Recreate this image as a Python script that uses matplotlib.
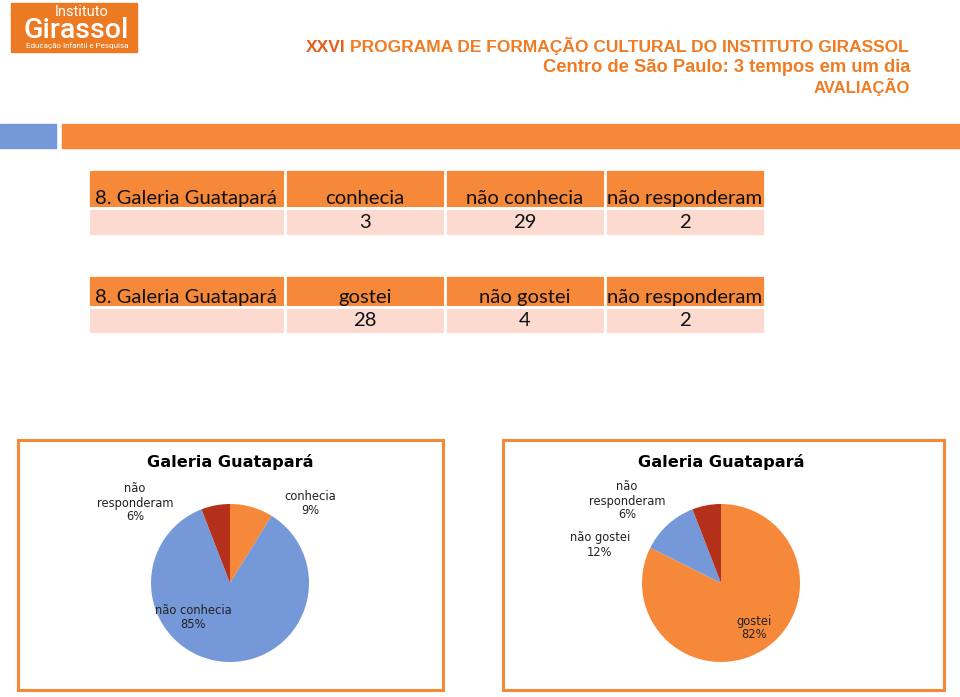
import matplotlib
matplotlib.use('Agg')
import matplotlib.pyplot as plt
import matplotlib.transforms as mtransforms
from matplotlib.patches import Rectangle

# data
table1_cols = ['8. Galeria Guatapará', 'conhecia', 'não conhecia', 'não responderam']
table1_counts = [3, 29, 2]
table2_cols = ['8. Galeria Guatapará', 'gostei', 'não gostei', 'não responderam']
table2_counts = [28, 4, 2]

pie1_labels = ['conhecia', 'não conhecia', 'não\nresponderam']
pie2_labels = ['gostei', 'não gostei', 'não\nresponderam']
pie_title = 'Galeria Guatapará'

header_lines = ['PROGRAMA DE FORMAÇÃO CULTURAL DO INSTITUTO GIRASSOL',
                'Centro de São Paulo: 3 tempos em um dia',
                'AVALIAÇÃO']

ORANGE = '#F6883A'
BLUE = '#7598D8'
DARKRED = '#B5301A'
PINK = '#FCDAD0'
TXT_OR = '#EF7B22'

W, H = 960, 697
fig = plt.figure(figsize=(W / 100, H / 100), dpi=100)
fig.patch.set_facecolor('white')

bg = fig.add_axes([0, 0, 1, 1])
bg.set_xlim(0, W)
bg.set_ylim(H, 0)
bg.axis('off')


def px_axes(x0, y0, w, h):
    return fig.add_axes([x0 / W, 1 - (y0 + h) / H, w / W, h / H])


# logo
bg.add_patch(Rectangle((11, 3), 126, 49, color='#EC7A22'))
bg.text(82, 16, 'Instituto', color='white', fontsize=10.5, family='Roboto',
        ha='center', va='baseline')
bg.text(76, 38.5, 'Girassol', color='white', fontsize=20.5, family='Roboto',
        fontweight='medium', ha='center', va='baseline')
bg.text(77, 46, 'Educação Infantil e Pesquisa', color='white', fontsize=5.8,
        family='Roboto', ha='center', va='center')

# header
t1 = bg.text(909, 52, header_lines[0], ha='right', va='baseline', color=TXT_OR,
             fontsize=12.5, family='Liberation Sans', fontweight='bold')
bg.annotate('XXVI', xy=(0, 0), xycoords=t1, xytext=(-3.5, 0), textcoords='offset points',
            ha='right', va='bottom', color='#E4601A', fontsize=12.5,
            family='Liberation Sans', fontweight='bold')
bg.text(910, 72.5, header_lines[1], ha='right', va='baseline', color=TXT_OR,
        fontsize=13.2, family='Liberation Sans', fontweight='bold')
bg.text(910, 93.5, header_lines[2], ha='right', va='baseline', color=TXT_OR,
        fontsize=12, family='Liberation Sans', fontweight='bold')

# bars under header
bg.add_patch(Rectangle((0, 124), 56, 24, color=BLUE))
bg.add_patch(Rectangle((62, 124), 898, 24, color=ORANGE))


def draw_table(y0, head_h, row_h, cols, counts):
    ax = px_axes(88, y0, 677, head_h + row_h)
    ax.axis('off')
    cells = [cols, [''] + [str(c) for c in counts]]
    tb = ax.table(cellText=cells, bbox=[0, 0, 1, 1],
                  colWidths=[197, 160, 160, 160], cellLoc='center')
    tb.auto_set_font_size(False)
    for (r, c), cell in tb.get_celld().items():
        cell.set_edgecolor('white')
        cell.set_linewidth(2)
        cell.set_height(head_h if r == 0 else row_h)
        txt = cell.get_text()
        txt.set_fontfamily('Lato')
        txt.set_fontsize(14.6)
        txt.set_color('#111111')
        if r == 0:
            cell.set_facecolor(ORANGE)
            txt.set_va('baseline')
            txt.set_transform(mtransforms.Affine2D().translate(0, -(head_h / 2 - 4)))
            if c == 0:
                txt.set_ha('left')
                cell.PAD = 0.035
        else:
            cell.set_facecolor(PINK)
    return tb


draw_table(169, 39, 28, table1_cols, table1_counts)
draw_table(275, 32, 27, table2_cols, table2_counts)

# pie panels
bg.add_patch(Rectangle((18, 440), 425, 250, fill=False, edgecolor=ORANGE, lw=2.2))
bg.add_patch(Rectangle((503, 440), 441, 250, fill=False, edgecolor=ORANGE, lw=2.2))


def draw_pie(cx, cy, r, counts, labels, colors, label_pos):
    ax = px_axes(cx - r, cy - r, 2 * r, 2 * r)
    ax.pie(counts, colors=colors, startangle=90, counterclock=False,
           wedgeprops=dict(linewidth=0))
    ax.set_xlim(-1, 1)
    ax.set_ylim(-1, 1)
    total = sum(counts)
    for lab, v, (lx, ly) in zip(labels, counts, label_pos):
        # figure-level text so it sits above the pie wedges
        fig.text(lx, ly, f'{lab}\n{round(100 * v / total)}%', transform=bg.transData,
                 ha='center', va='center', fontsize=8.3, family='DejaVu Sans',
                 color='#222222', multialignment='center', linespacing=1.1)
    bg.text(cx, 462, pie_title, ha='center', va='center', fontsize=11.6,
            fontweight='bold', family='DejaVu Sans', color='black')


draw_pie(230, 583, 79, table1_counts, pie1_labels, [ORANGE, BLUE, DARKRED],
         [(310, 503), (193, 618), (135, 503)])
draw_pie(721, 583, 79, table2_counts, pie2_labels, [ORANGE, BLUE, DARKRED],
         [(754, 628), (600, 545), (627, 501)])

fig.savefig('out.png', dpi=100, facecolor='white')
